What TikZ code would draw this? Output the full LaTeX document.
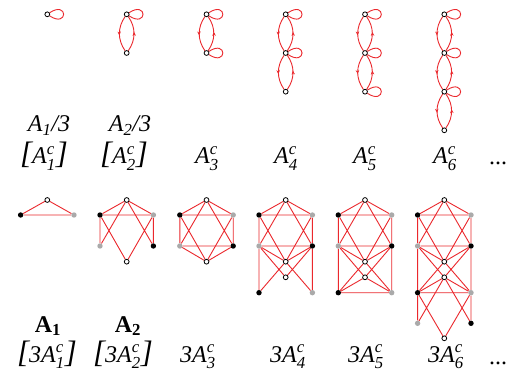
\documentclass[tikz,border=0pt]{standalone}
\usepackage{amsmath}
\usepackage{fontspec}
\setmainfont{Liberation Serif}
\usetikzlibrary{arrows.meta,decorations.markings,backgrounds}
\definecolor{edgered}{RGB}{235,40,45}
\definecolor{vgray}{RGB}{170,170,170}
\tikzset{
  ov/.style={circle,draw=black,fill=white,line width=0.8pt,inner sep=0pt,minimum size=4.8pt},
  wv/.style={circle,draw=black,fill=white,line width=0.8pt,inner sep=0pt,minimum size=4.8pt},
  bv/.style={circle,fill=black,inner sep=0pt,minimum size=5.4pt},
  gv/.style={circle,fill=vgray,inner sep=0pt,minimum size=5.4pt},
  edge/.style={draw=edgered,line width=0.9pt},
  midarrow/.style={postaction={decorate},decoration={markings,mark=at position 0.55 with {\arrow{Stealth[length=4pt,width=3.4pt]}}}},
  lab/.style={anchor=base,inner sep=0pt,font=\fontsize{24}{28}\selectfont}
}
\newcommand\mktriple[6]{%
  \node[wv] (#1w) at (#2,-#3) {};
  \node[#5] (#1l) at (#2-26.7,-#4) {};
  \node[#6] (#1r) at (#2+26.7,-#4) {};}
\newcommand\mktri[1]{\draw[edge] (#1w)--(#1l) (#1w)--(#1r) (#1l)--(#1r);}
\newcommand\mklink[2]{\draw[edge] (#1w)--(#2l) (#1w)--(#2r) (#1l)--(#2w) (#1l)--(#2l) (#1r)--(#2w) (#1r)--(#2r);}
\newcommand\mkloop[1]{\draw[edge] (#1) .. controls +(21,14) and +(21,-14) .. (#1);}
\newcommand\mkdbl[2]{\draw[edge,midarrow] (#1) to[bend right=35] (#2); \draw[edge,midarrow] (#2) to[bend right=35] (#1);}
\newcommand\LAc[1]{$\textit{A}^{\textit{c}}_{\textit{#1}}$}
\newcommand\LBra{{\fontsize{31}{32}\selectfont\itshape[}}
\newcommand\LKet{{\fontsize{31}{32}\selectfont\itshape]}}
\begin{document}
\begin{tikzpicture}[x=1pt,y=1pt]
\useasboundingbox (0,0) rectangle (508,-379);
% ---- top row vertices
\node[ov] (t1a) at (47.3,-14.3) {};
\node[ov] (t2a) at (126.7,-14.3) {};
\node[ov] (t2b) at (126.7,-53) {};
\node[ov] (t3a) at (206.5,-14.3) {};
\node[ov] (t3b) at (206.5,-53) {};
\node[ov] (t4a) at (285.7,-14.3) {};
\node[ov] (t4b) at (285.7,-53) {};
\node[ov] (t4c) at (285.7,-91.7) {};
\node[ov] (t5a) at (365,-14.3) {};
\node[ov] (t5b) at (365,-53) {};
\node[ov] (t5c) at (365,-91.7) {};
\node[ov] (t6a) at (444.3,-14.3) {};
\node[ov] (t6b) at (444.3,-53) {};
\node[ov] (t6c) at (444.3,-91.7) {};
\node[ov] (t6d) at (444.3,-130.3) {};
% ---- bottom row vertices
\mktriple{g1a}{47.3}{200}{215}{bv}{gv}
\mktriple{g2a}{126.7}{200}{215}{bv}{gv}
\mktriple{g2b}{126.7}{261.7}{246}{gv}{bv}
\mktriple{g3a}{206.5}{200}{215}{bv}{gv}
\mktriple{g3b}{206.5}{261.7}{246}{gv}{bv}
\mktriple{g4a}{285.7}{200}{215}{bv}{gv}
\mktriple{g4b}{285.7}{261.7}{246}{gv}{bv}
\mktriple{g4c}{285.7}{277.3}{292.7}{bv}{gv}
\mktriple{g5a}{365}{200}{215}{bv}{gv}
\mktriple{g5b}{365}{261.7}{246}{gv}{bv}
\mktriple{g5c}{365}{277.3}{292.7}{bv}{gv}
\mktriple{g6a}{444.3}{200}{215}{bv}{gv}
\mktriple{g6b}{444.3}{261.7}{246}{gv}{bv}
\mktriple{g6c}{444.3}{277.3}{292.7}{bv}{gv}
\mktriple{g6d}{444.3}{338.3}{323.3}{gv}{bv}
\begin{pgfonlayer}{background}
\fill[white] (0,0) rectangle (508,-379);
% top edges
\mkloop{t1a}
\mkloop{t2a} \mkdbl{t2a}{t2b}
\mkloop{t3a} \mkloop{t3b} \mkdbl{t3a}{t3b}
\mkloop{t4a} \mkloop{t4b} \mkdbl{t4a}{t4b} \mkdbl{t4b}{t4c}
\mkloop{t5a} \mkloop{t5b} \mkloop{t5c} \mkdbl{t5a}{t5b} \mkdbl{t5b}{t5c}
\mkloop{t6a} \mkloop{t6b} \mkloop{t6c} \mkdbl{t6a}{t6b} \mkdbl{t6b}{t6c} \mkdbl{t6c}{t6d}
% bottom edges
\mktri{g1a}
\mktri{g2a} \mklink{g2a}{g2b}
\mktri{g3a} \mktri{g3b} \mklink{g3a}{g3b}
\mktri{g4a} \mktri{g4b} \mklink{g4a}{g4b} \mklink{g4b}{g4c}
\mktri{g5a} \mktri{g5b} \mktri{g5c} \mklink{g5a}{g5b} \mklink{g5b}{g5c}
\mktri{g6a} \mktri{g6b} \mktri{g6c} \mklink{g6a}{g6b} \mklink{g6b}{g6c} \mklink{g6c}{g6d}
\end{pgfonlayer}
% ---- labels row 1
\node[lab] (l1a) at (49,-132) {$\textit{A}_{\textit{1}}$\textit{/3}};
\node[lab] (l2a) at (130,-132) {$\textit{A}_{\textit{2}}$\textit{/3}};
\node[lab] (l1b) at (44,-164) {\LBra\LAc{1}\LKet};
\node[lab] (l2b) at (124,-164) {\LBra\LAc{2}\LKet};
\node[lab] (l3) at (207,-164) {\LAc{3}};
\node[lab] (l4) at (286,-164) {\LAc{4}};
\node[lab] (l5) at (365,-164) {\LAc{5}};
\node[lab] (l6) at (445,-164) {\LAc{6}};
\node[lab] (ld1) at (498,-165) {...};
% ---- labels row 2
\node[lab] (m1a) at (48,-332) {$\textbf{A}_{\textbf{1}}$};
\node[lab] (m2a) at (128,-332) {$\textbf{A}_{\textbf{2}}$};
\node[lab] (m1b) at (47,-362) {\LBra\textit{3}\LAc{1}\LKet};
\node[lab] (m2b) at (123,-362) {\LBra\textit{3}\LAc{2}\LKet};
\node[lab] (m3) at (198,-362) {\textit{3}\LAc{3}};
\node[lab] (m4) at (288,-362) {\textit{3}\LAc{4}};
\node[lab] (m5) at (366,-362) {\textit{3}\LAc{5}};
\node[lab] (m6) at (446,-362) {\textit{3}\LAc{6}};
\node[lab] (ld2) at (498,-364) {...};
\end{tikzpicture}
\end{document}
